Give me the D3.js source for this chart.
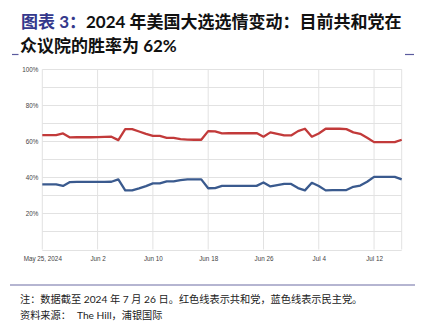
<!DOCTYPE html>
<html>
<head>
<meta charset="utf-8">
<script src="https://cdn.jsdelivr.net/npm/d3@7"></script>
<style>
  html, body { margin: 0; padding: 0; background: #fff; }
  svg { display: block; }
</style>
</head>
<body>
<svg id="chart" width="427" height="327"></svg>
<script>
// Daily House win probability (%), starting May 25, 2024
const startDate = "2024-05-25";
const republican = [
  63.5, 63.5, 63.5, 64.4, 62.2, 62.3, 62.3, 62.3, 62.4, 62.5,
  62.6, 60.7, 66.8, 66.8, 65.5, 64.2, 63.1, 63.0, 62.0, 62.0,
  61.3, 61.0, 60.9, 60.9, 65.7, 65.5, 64.4, 64.5, 64.5, 64.5,
  64.5, 64.6, 62.6, 65.0, 64.2, 63.3, 63.3, 65.7, 67.0, 62.6,
  64.4, 67.0, 67.0, 67.0, 66.8, 65.0, 64.2, 62.0, 59.6, 59.6,
  59.6, 59.6, 60.9
];
const democrat = [
  36.1, 36.1, 36.1, 35.3, 37.4, 37.5, 37.5, 37.5, 37.5, 37.5,
  37.6, 38.9, 32.8, 32.8, 33.9, 35.2, 36.7, 36.7, 37.8, 37.8,
  38.5, 38.9, 38.9, 38.9, 34.0, 34.1, 35.3, 35.3, 35.3, 35.3,
  35.3, 35.3, 37.2, 35.0, 35.7, 36.4, 36.4, 34.1, 32.8, 37.0,
  35.2, 32.8, 32.9, 32.9, 33.0, 34.8, 35.5, 37.6, 40.3, 40.3,
  40.3, 40.3, 38.9
];
const xTickDates = ["2024-05-25", "2024-06-02", "2024-06-10", "2024-06-18", "2024-06-26", "2024-07-04", "2024-07-12"];
const xTickLabels = ["May 25, 2024", "Jun 2", "Jun 10", "Jun 18", "Jun 26", "Jul 4", "Jul 12"];
const yGrid = [0, 10, 20, 30, 40, 50, 60, 70, 80, 90, 100];
const yTickLabels = [20, 40, 60, 80, 100];

const parse = d3.utcParse("%Y-%m-%d");
const t0 = parse(startDate);
const dates = republican.map((_, i) => d3.utcDay.offset(t0, i));

const svg = d3.select("#chart");
const cjk = "'Lato', 'Noto Sans CJK SC', sans-serif";
const axisFont = "'Liberation Sans', Arial, sans-serif";

// Title
const title = svg.append("text")
  .attr("x", 21).attr("y", 28)
  .attr("font-family", cjk).attr("font-size", 17).attr("font-weight", "bold");
title.append("tspan").attr("fill", "#34388c").text("图表 3：");
title.append("tspan").attr("fill", "#111").text("2024 年美国大选选情变动：目前共和党在");
svg.append("text")
  .attr("x", 20).attr("y", 51.5)
  .attr("font-family", cjk).attr("font-size", 17).attr("font-weight", "bold")
  .attr("fill", "#111").text("众议院的胜率为 62%");

// Header rule ends
svg.append("line").attr("x1", 12).attr("x2", 18.5).attr("y1", 54.5).attr("y2", 54.5)
  .attr("stroke", "#5b5b9e").attr("stroke-width", 1.2);
svg.append("line").attr("x1", 405).attr("x2", 414).attr("y1", 54.5).attr("y2", 54.5)
  .attr("stroke", "#5b5b9e").attr("stroke-width", 1.2);

// Scales
const x = d3.scaleUtc()
  .domain([t0, dates[dates.length - 1]])
  .range([42.3, 401.7]);
const y = d3.scaleLinear().domain([0, 100]).range([249.5, 69.3]);

const plot = svg.append("g");

// Horizontal grid
plot.append("g").selectAll("line").data(yGrid).join("line")
  .attr("x1", x.range()[0]).attr("x2", x.range()[1])
  .attr("y1", d => Math.round(y(d)) + 0.5).attr("y2", d => Math.round(y(d)) + 0.5)
  .attr("stroke", "#e2e2e2").attr("stroke-width", 1);

// Vertical grid at tick dates and right edge
const vLines = xTickDates.map(parse).concat([dates[dates.length - 1]]);
plot.append("g").selectAll("line").data(vLines).join("line")
  .attr("x1", d => x(d)).attr("x2", d => x(d))
  .attr("y1", y(100)).attr("y2", y(0))
  .attr("stroke", "#e2e2e2").attr("stroke-width", 1);

// Y axis labels
const yAxis = d3.axisLeft(y).tickValues(yTickLabels).tickSize(0).tickPadding(4)
  .tickFormat(d => d + "%");
plot.append("g").attr("transform", `translate(${x.range()[0]},0)`).call(yAxis)
  .call(g => g.select(".domain").remove())
  .call(g => g.selectAll("text").attr("font-family", axisFont)
    .attr("font-size", 6.3).attr("fill", "#444"));

// X axis labels
const xAxis = d3.axisBottom(x).tickValues(xTickDates.map(parse)).tickSize(0).tickPadding(7)
  .tickFormat((d, i) => xTickLabels[i]);
plot.append("g").attr("transform", `translate(0,${y(0)})`).call(xAxis)
  .call(g => g.select(".domain").remove())
  .call(g => g.selectAll("text").attr("font-family", axisFont)
    .attr("font-size", 6.3).attr("fill", "#444"));

// Series lines
const line = d3.line().x((d, i) => x(dates[i])).y(d => y(d));
plot.append("path").datum(republican)
  .attr("d", line).attr("fill", "none")
  .attr("stroke", "#c23a3a").attr("stroke-width", 2.3).attr("stroke-linejoin", "round");
plot.append("path").datum(democrat)
  .attr("d", line).attr("fill", "none")
  .attr("stroke", "#3a5a8e").attr("stroke-width", 2.3).attr("stroke-linejoin", "round");

// Footer rule
svg.append("line").attr("x1", 10).attr("x2", 415).attr("y1", 285).attr("y2", 285)
  .attr("stroke", "#9d9cc2").attr("stroke-width", 1.5);

// Notes
svg.append("text").attr("x", 20).attr("y", 302.5)
  .attr("font-family", cjk).attr("font-size", 10.2).attr("fill", "#222")
  .text("注：数据截至 2024 年 7 月 26 日。红色线表示共和党，蓝色线表示民主党。");
const src = svg.append("text").attr("x", 20).attr("y", 318.5)
  .attr("font-family", cjk).attr("font-size", 10.2).attr("fill", "#222");
src.append("tspan").text("资料来源：");
src.append("tspan").attr("x", 77).text("The Hill，浦银国际");
</script>
</body>
</html>
